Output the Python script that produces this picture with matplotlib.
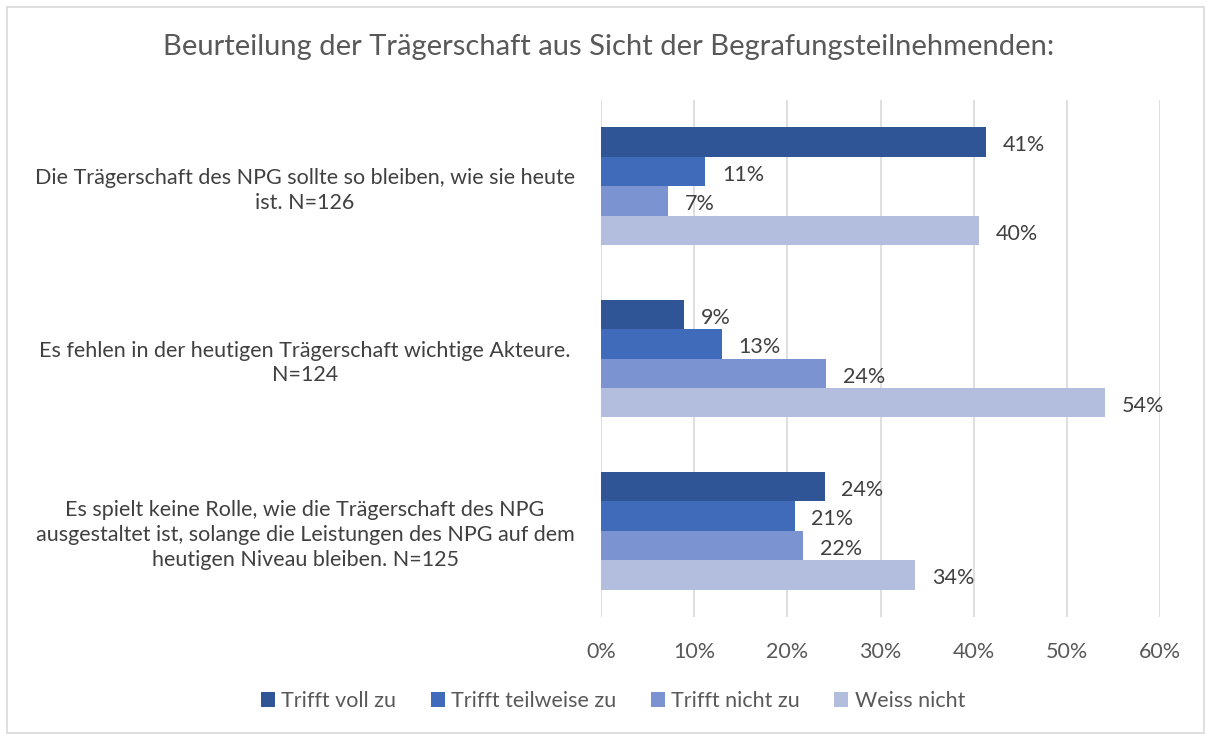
import matplotlib.pyplot as plt
import numpy as np
from matplotlib.patches import Rectangle
import matplotlib.transforms as mtrans

plt.rcParams['font.family'] = ['Lato', 'DejaVu Sans']

title = "Beurteilung der Trägerschaft aus Sicht der Begrafungsteilnehmenden:"
categories = [
    "Die Trägerschaft des NPG sollte so bleiben, wie sie heute\nist. N=126",
    "Es fehlen in der heutigen Trägerschaft wichtige Akteure.\nN=124",
    "Es spielt keine Rolle, wie die Trägerschaft des NPG\nausgestaltet ist, solange die Leistungen des NPG auf dem\nheutigen Niveau bleiben. N=125",
]
series_names = ["Trifft voll zu", "Trifft teilweise zu", "Trifft nicht zu", "Weiss nicht"]
values = {
    "Trifft voll zu":      [0.413, 0.089, 0.240],
    "Trifft teilweise zu": [0.112, 0.130, 0.208],
    "Trifft nicht zu":     [0.072, 0.242, 0.217],
    "Weiss nicht":         [0.406, 0.541, 0.337],
}
labels = {
    "Trifft voll zu":      ["41%", "9%", "24%"],
    "Trifft teilweise zu": ["11%", "13%", "21%"],
    "Trifft nicht zu":     ["7%", "24%", "22%"],
    "Weiss nicht":         ["40%", "54%", "34%"],
}
colors = ["#2F5597", "#3F6BBA", "#7B93D0", "#B3BEDF"]
xticks = [0, 0.1, 0.2, 0.3, 0.4, 0.5, 0.6]
xticklabels = ["0%", "10%", "20%", "30%", "40%", "50%", "60%"]

W, H = 1206, 735
fig = plt.figure(figsize=(W / 100, H / 100), dpi=100)
fig.patches.append(Rectangle((7 / W, 2 / H), (W - 9) / W, (H - 9) / H, transform=fig.transFigure,
                             fill=False, edgecolor="#D9D9D9", linewidth=1.2))

ax = fig.add_axes([601 / W, 1 - 617 / H, (1160 - 601) / W, (617 - 100) / H])
y = np.arange(len(categories))
bh = 0.171
n = len(series_names)
for i, (name, c) in enumerate(zip(series_names, colors)):
    ypos = y + (i - (n - 1) / 2) * bh
    ax.barh(ypos, values[name], height=bh, color=c, label=name, zorder=3)
    for yy, v, lab in zip(ypos, values[name], labels[name]):
        ax.annotate(lab, (v, yy), xytext=(12, -1), textcoords="offset points",
                    va="center_baseline", ha="left", fontsize=15.5, color="#404040")

ax.set_ylim(2.5, -0.5)
ax.set_xlim(0, 0.6)
ax.set_xticks(xticks)
ax.set_xticklabels(xticklabels, fontsize=15.5, color="#595959")
ax.set_yticks(y)
ax.set_yticklabels(categories, fontsize=15.5, color="#404040", ha="center",
                   multialignment="center", linespacing=1.3)
ax.tick_params(axis="y", length=0, pad=0)
ax.tick_params(axis="x", length=0, pad=18)
for lab in ax.get_yticklabels():
    lab.set_transform(lab.get_transform() + mtrans.ScaledTranslation(-2.96, 0, fig.dpi_scale_trans))
ax.grid(axis="x", color="#D9D9D9", linewidth=1.2, zorder=0)
for s in ax.spines.values():
    s.set_visible(False)

fig.text(0.5 * (160 + 1058) / W, 1 - 47 / H, title, ha="center", va="center", fontsize=21, color="#595959")

fig.legend(loc="center", bbox_to_anchor=(613 / W, 1 - 701 / H), ncol=4, frameon=False,
           fontsize=15.5, handlelength=0.65, handleheight=0.65, handletextpad=0.3,
           columnspacing=1.6, labelcolor="#595959")

fig.savefig("out.png", dpi=100)
